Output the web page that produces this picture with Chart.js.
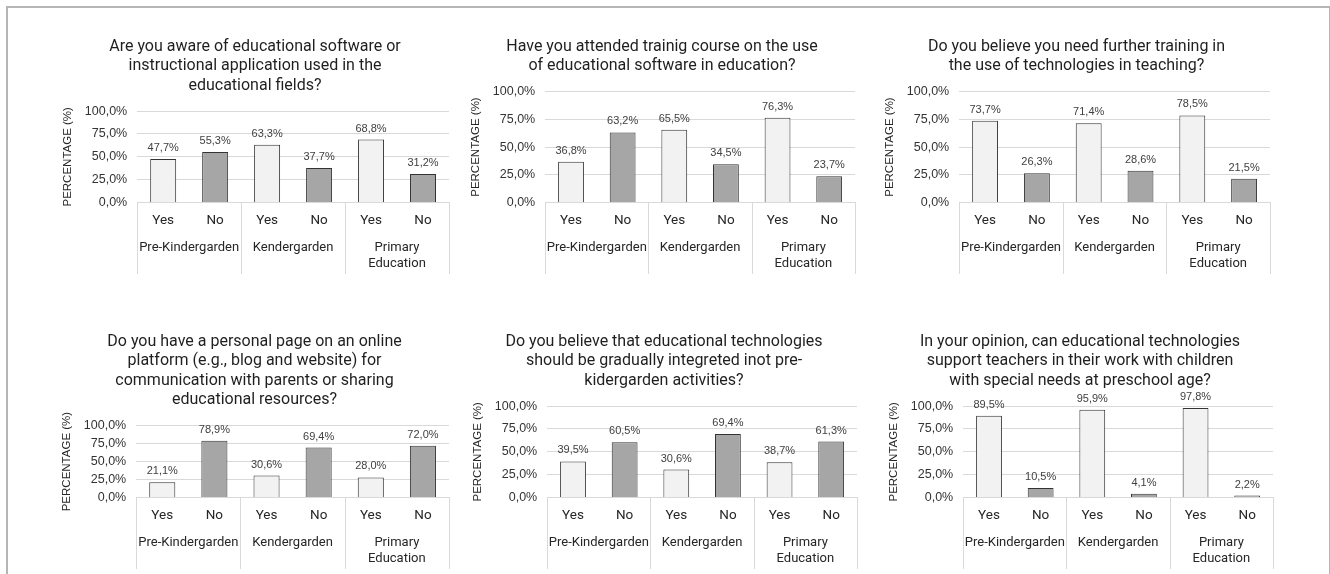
<!DOCTYPE html>
<html>
<head>
<meta charset="utf-8">
<script src="https://cdn.jsdelivr.net/npm/chart.js@4.4.1/dist/chart.umd.min.js"></script>
<style>
  body { margin: 0; width: 1330px; height: 574px; background: #fff; position: relative; overflow: hidden; }
  .frame { position: absolute; left: 6px; top: 6px; width: 1321px; height: 600px; border: 2px solid #b5b5b5; border-bottom: none; }
  .box { position: absolute; height: 238px; }
</style>
</head>
<body>
<div class="frame"></div>
<div class="box" style="left:61px; top:37px; width:390px;"><canvas id="c1"></canvas></div>
<div class="box" style="left:469px; top:37px; width:388px;"><canvas id="c2"></canvas></div>
<div class="box" style="left:883px; top:37px; width:389px;"><canvas id="c3"></canvas></div>
<div class="box" style="left:60px; top:332px; width:391px;"><canvas id="c4"></canvas></div>
<div class="box" style="left:471px; top:332px; width:388px;"><canvas id="c5"></canvas></div>
<div class="box" style="left:887px; top:332px; width:388px;"><canvas id="c6"></canvas></div>
<script>
// answers per level, Yes / No pairs
let answers = ['Yes', 'No', 'Yes', 'No', 'Yes', 'No'];
let levels = ['Pre-Kindergarden', 'Kendergarden', ['Primary', 'Education']];

let awareData = [47.7, 55.3, 63.3, 37.7, 68.8, 31.2];
let courseData = [36.8, 63.2, 65.5, 34.5, 76.3, 23.7];
let trainingData = [73.7, 26.3, 71.4, 28.6, 78.5, 21.5];
let pageData = [21.1, 78.9, 30.6, 69.4, 28.0, 72.0];
let integrateData = [39.5, 60.5, 30.6, 69.4, 38.7, 61.3];
let specialData = [89.5, 10.5, 95.9, 4.1, 97.8, 2.2];

let awareTitle = ['Are you aware of educational software or', 'instructional application used in the', 'educational fields?'];
let courseTitle = ['Have you attended trainig course on the use', 'of educational software in education?'];
let trainingTitle = ['Do you believe you need further training in', 'the use of technologies in teaching?'];
let pageTitle = ['Do you have a personal page on an online', 'platform (e.g., blog and website) for', 'communication with parents or sharing', 'educational resources?'];
let integrateTitle = ['Do you believe that educational technologies', 'should be gradually integreted inot pre-', 'kidergarden activities?'];
let specialTitle = ['In your opinion, can educational technologies', 'support teachers in their work with children', 'with special needs at preschool age?'];

let yMin = 0;
let yMax = 100;
let yStep = 25;

let yesColor = '#f2f2f2';
let noColor = '#a6a6a6';
let gridColor = '#d9d9d9';

let pct = (v, digits) => v.toFixed(digits).replace('.', ',') + '%';

// value above each bar
let valueLabels = {
    id: 'valueLabels',
    afterDatasetsDraw: (chart) => {
        let ctx = chart.ctx;
        let meta = chart.getDatasetMeta(0);
        ctx.save();
        ctx.font = '11px "Liberation Sans", Arial, sans-serif';
        ctx.fillStyle = '#404040';
        ctx.textAlign = 'center';
        ctx.textBaseline = 'middle';
        meta.data.forEach((bar, i) => {
            ctx.fillText(pct(chart.data.datasets[0].data[i], 1), bar.x, bar.y - 11);
        });
        ctx.restore();
    }
};

// table-like separators between the level groups
let groupLines = {
    id: 'groupLines',
    afterDraw: (chart) => {
        let ctx = chart.ctx;
        let x = chart.scales.x;
        let x2 = chart.scales.x2;
        let step = x.getPixelForValue(1) - x.getPixelForValue(0);
        ctx.save();
        ctx.strokeStyle = gridColor;
        ctx.lineWidth = 1;
        for (let i = 0; i <= answers.length; i += 2) {
            let px = Math.round(x.getPixelForValue(i) - step / 2) + 0.5;
            ctx.beginPath();
            ctx.moveTo(px, chart.chartArea.bottom);
            ctx.lineTo(px, x2.bottom + 2);
            ctx.stroke();
        }
        ctx.restore();
    }
};

let makeChart = (id, title, values) => {
    return new Chart(document.getElementById(id), {
        type: 'bar',
        data: {
            labels: answers,
            datasets: [{
                data: values,
                backgroundColor: answers.map(a => a === 'Yes' ? yesColor : noColor),
                borderColor: '#333333',
                borderWidth: 1,
                barPercentage: 0.5,
                categoryPercentage: 1.0
            }]
        },
        options: {
            responsive: true,
            maintainAspectRatio: false,
            animation: false,
            layout: { padding: { left: 0, right: 2, top: 0, bottom: 3 } },
            plugins: {
                legend: { display: false },
                tooltip: { enabled: false },
                title: {
                    display: true,
                    text: title,
                    color: '#1f1f1f',
                    font: { family: 'Roboto, sans-serif', size: 16, weight: 'normal', lineHeight: 1.22 },
                    padding: { top: 0, bottom: 15.5 }
                }
            },
            scales: {
                x: {
                    grid: { display: false },
                    border: { display: true, color: gridColor },
                    ticks: {
                        color: '#262626',
                        padding: 2,
                        font: { family: 'Roboto, sans-serif', size: 13.5, lineHeight: 1.2 }
                    }
                },
                x2: {
                    type: 'category',
                    position: 'bottom',
                    labels: levels,
                    offset: true,
                    grid: { display: false },
                    border: { display: false },
                    ticks: {
                        color: '#262626',
                        padding: 0.5,
                        autoSkip: false,
                        maxRotation: 0,
                        font: { family: 'Roboto, sans-serif', size: 13, lineHeight: 1.24 }
                    }
                },
                y: {
                    min: yMin,
                    max: yMax,
                    grid: { color: gridColor, drawTicks: false },
                    border: { display: false },
                    ticks: {
                        stepSize: yStep,
                        autoSkip: false,
                        padding: 10,
                        color: '#333333',
                        font: { family: '"Liberation Sans", Arial, sans-serif', size: 12.5 },
                        callback: (v) => pct(v, 1)
                    },
                    title: {
                        display: true,
                        text: 'PERCENTAGE (%)',
                        color: '#262626',
                        padding: { top: 0, bottom: 0 },
                        font: { family: '"Liberation Sans", Arial, sans-serif', size: 11.5 }
                    }
                }
            }
        },
        plugins: [valueLabels, groupLines]
    });
};

makeChart('c1', awareTitle, awareData);
makeChart('c2', courseTitle, courseData);
makeChart('c3', trainingTitle, trainingData);
makeChart('c4', pageTitle, pageData);
makeChart('c5', integrateTitle, integrateData);
makeChart('c6', specialTitle, specialData);
</script>
</body>
</html>
